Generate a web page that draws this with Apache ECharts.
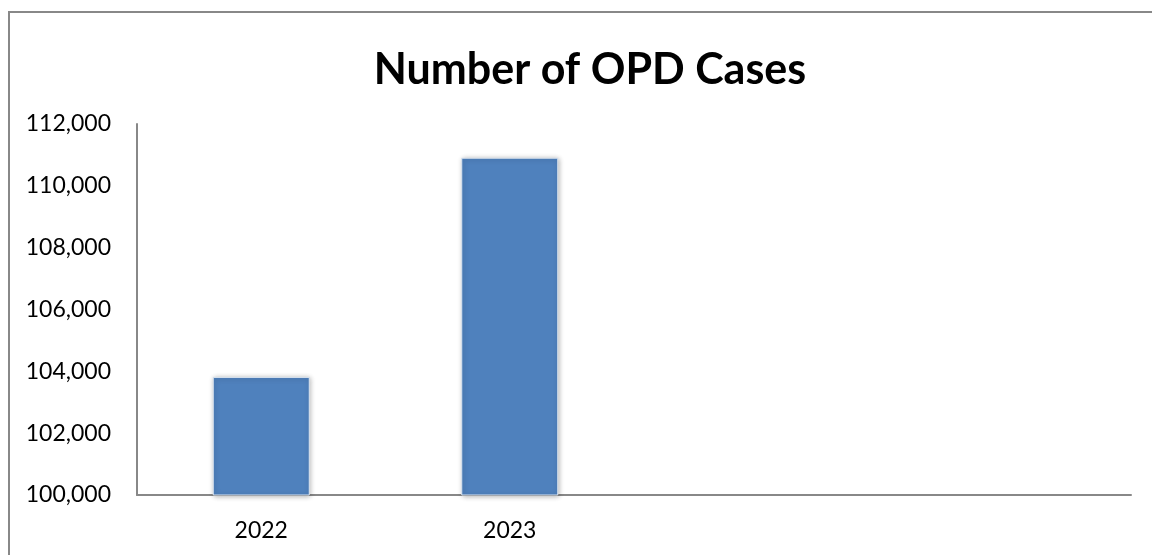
<!DOCTYPE html>
<html>
<head>
<meta charset="utf-8">
<script src="https://cdn.jsdelivr.net/npm/echarts@6/dist/echarts.min.js"></script>
<style>html,body{margin:0;padding:0;background:#fff}#c{width:1152px;height:555px}</style>
</head>
<body>
<div id="c"></div>
<script>
const categories = ['2022', '2023', '', ''];
const opdCases = [103820, 110910, null, null];
const yTicks = { min: 100000, max: 112000, interval: 2000 };

const chart = echarts.init(document.getElementById('c'));
chart.setOption({
  animation: false,
  backgroundColor: '#fff',
  title: {
    text: 'Number of OPD Cases',
    left: 585, top: 44, textAlign: 'center',
    textStyle: { fontFamily: 'Lato', fontWeight: 'bold', fontSize: 43, color: '#000' }
  },
  graphic: [{
    type: 'rect', shape: { x: 9, y: 12, width: 1200, height: 600 },
    style: { fill: 'none', stroke: '#888', lineWidth: 2 }, silent: true
  }],
  grid: { left: 137, right: 21, top: 124, bottom: 60 },
  xAxis: {
    type: 'category', data: categories,
    axisLine: { lineStyle: { color: '#888', width: 2 } },
    axisTick: { show: false },
    axisLabel: { color: '#000', fontFamily: 'Lato', fontSize: 23, margin: 24 }
  },
  yAxis: {
    type: 'value', min: yTicks.min, max: yTicks.max, interval: yTicks.interval,
    axisLine: { show: true, lineStyle: { color: '#888', width: 2 } },
    axisTick: { show: false },
    splitLine: { show: false },
    axisLabel: {
      color: '#000', fontFamily: 'Lato', fontSize: 23, margin: 26,
      formatter: v => v.toLocaleString('en-US')
    }
  },
  series: [{
    type: 'bar', data: opdCases, barWidth: 97,
    itemStyle: {
      color: '#4F81BD', borderColor: '#dbe5f1', borderWidth: 1,
      shadowColor: 'rgba(0,0,0,0.3)', shadowBlur: 5, shadowOffsetX: 1, shadowOffsetY: 1
    }
  }]
});
</script>
</body>
</html>
